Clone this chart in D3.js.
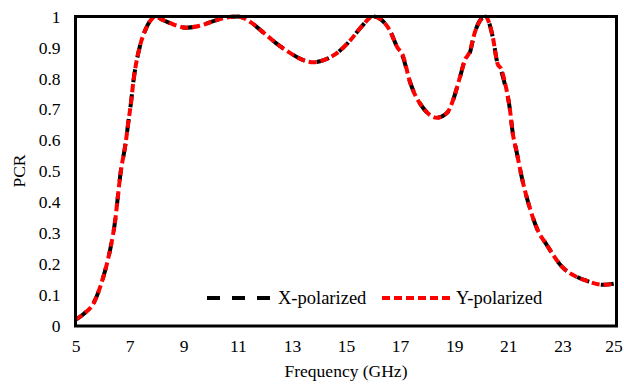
<!DOCTYPE html>
<html>
<head>
<meta charset="utf-8">
<script src="https://cdn.jsdelivr.net/npm/d3@7/dist/d3.min.js"></script>
<style>
  html, body { margin: 0; padding: 0; background: #fff; }
  svg { display: block; }
  svg text { font-family: "Times New Roman", "Liberation Serif", Tinos, serif; fill: #000; }
</style>
</head>
<body>
<svg id="chart" width="624" height="385"></svg>
<script>
// Frequency samples (GHz)
const freq = [5, 5.3, 5.67, 6.04, 6.2, 6.3, 6.48, 6.55, 6.66, 6.85, 6.96, 7.05, 7.14, 7.37, 7.6, 7.8, 7.95,
  8.2, 8.6, 9.1, 9.6, 10.1, 10.6, 11.0, 11.5, 11.95, 12.4, 12.9, 13.4, 13.8, 14.2, 14.7,
  15.15, 15.6, 16.0, 16.3, 16.62, 16.9, 17.1, 17.36, 17.84, 18.36, 18.75, 18.95, 19.2,
  19.4, 19.57, 19.75, 20.06, 20.15, 20.43, 20.6, 20.75, 20.86, 21.05, 21.17, 21.3, 21.5, 21.8,
  22.1, 22.4, 23.0, 23.5, 23.9, 24.5, 25];

// Polarization conversion ratio, X-polarized incidence
const xPol = [0.02, 0.039, 0.074, 0.162, 0.215, 0.255, 0.35, 0.405, 0.49, 0.589, 0.663, 0.72, 0.79, 0.9, 0.96, 0.99, 1.0,
  0.99, 0.975, 0.964, 0.97, 0.985, 0.997, 1.0, 0.98, 0.948, 0.915, 0.884, 0.86, 0.852, 0.86, 0.884,
  0.922, 0.97, 1.0, 0.99, 0.955, 0.9, 0.87, 0.79, 0.706, 0.673, 0.69, 0.728, 0.8,
  0.86, 0.88, 0.945, 0.997, 1.0, 0.932, 0.848, 0.82, 0.785, 0.706, 0.62, 0.566, 0.48, 0.38,
  0.307, 0.265, 0.19, 0.16, 0.146, 0.133, 0.138];

// Polarization conversion ratio, Y-polarized incidence
const yPol = [0.02, 0.039, 0.074, 0.162, 0.215, 0.255, 0.35, 0.405, 0.49, 0.589, 0.663, 0.72, 0.79, 0.9, 0.96, 0.99, 1.0,
  0.99, 0.975, 0.964, 0.97, 0.985, 0.997, 1.0, 0.98, 0.948, 0.915, 0.884, 0.86, 0.852, 0.86, 0.884,
  0.922, 0.97, 1.0, 0.99, 0.955, 0.9, 0.875, 0.79, 0.706, 0.673, 0.69, 0.728, 0.8,
  0.86, 0.885, 0.945, 0.997, 1.0, 0.932, 0.848, 0.828, 0.792, 0.706, 0.62, 0.566, 0.48, 0.38,
  0.307, 0.265, 0.19, 0.16, 0.146, 0.133, 0.138];

const xTicks = [5, 7, 9, 11, 13, 15, 17, 19, 21, 23, 25];
const yTicks = [0, 0.1, 0.2, 0.3, 0.4, 0.5, 0.6, 0.7, 0.8, 0.9, 1];

const seriesNames = ["X-polarized", "Y-polarized"];

const svg = d3.select("#chart");
const plotL = 75.5, plotR = 616.5, plotT = 16.5, plotB = 326;

const x = d3.scaleLinear().domain([5, 25]).range([plotL, plotR]);
const y = d3.scaleLinear().domain([0, 1]).range([plotB, plotT]);

const line = d3.line()
  .x((d, i) => x(freq[i]))
  .y(d => y(d))
  .curve(d3.curveMonotoneX);

svg.append("path")
  .datum(xPol)
  .attr("d", line)
  .attr("fill", "none")
  .attr("stroke", "#000")
  .attr("stroke-width", 4)
  .attr("stroke-dasharray", "13,12");

svg.append("path")
  .datum(yPol)
  .attr("d", line)
  .attr("fill", "none")
  .attr("stroke", "#ff0000")
  .attr("stroke-width", 4)
  .attr("stroke-dasharray", "8,4");

// Plot frame
svg.append("rect")
  .attr("x", plotL).attr("y", plotT)
  .attr("width", plotR - plotL).attr("height", plotB - plotT)
  .attr("fill", "none")
  .attr("stroke", "#000")
  .attr("stroke-width", 3);

// Axis tick labels via d3 axes (lines hidden, text kept)
const xAxis = svg.append("g")
  .attr("transform", `translate(0,${plotB})`)
  .call(d3.axisBottom(x).tickValues(xTicks).tickSize(0).tickPadding(14).tickFormat(d3.format("d")));
xAxis.select(".domain").remove();
xAxis.attr("font-family", null).selectAll("text").attr("font-size", 17.5);
xAxis.selectAll(".tick").filter(d => d === 25).select("text").attr("dx", -3);

const yAxis = svg.append("g")
  .attr("transform", `translate(${plotL},0)`)
  .call(d3.axisLeft(y).tickValues(yTicks).tickSize(0).tickPadding(15).tickFormat(d => String(+d.toFixed(1))));
yAxis.select(".domain").remove();
yAxis.attr("font-family", null).selectAll("text").attr("font-size", 17.5);

// Axis titles
svg.append("text")
  .attr("x", (plotL + plotR) / 2).attr("y", 377)
  .attr("text-anchor", "middle")
  .attr("font-size", 17.5)
  .text("Frequency (GHz)");

svg.append("text")
  .attr("transform", "translate(25,171) rotate(-90)")
  .attr("text-anchor", "middle")
  .attr("font-size", 17.5)
  .text("PCR");

// Legend
const legend = [
  { name: seriesNames[0], x0: 207, x1: 272, tx: 278, color: "#000", dash: "13,12" },
  { name: seriesNames[1], x0: 382, x1: 451, tx: 456, color: "#ff0000", dash: "8,4" }
];
const ly = 298;
legend.forEach(l => {
  svg.append("line")
    .attr("x1", l.x0).attr("x2", l.x1).attr("y1", ly).attr("y2", ly)
    .attr("stroke", l.color).attr("stroke-width", 4)
    .attr("stroke-dasharray", l.dash);
  svg.append("text")
    .attr("x", l.tx).attr("y", ly).attr("dy", "0.35em")
    .attr("font-size", 18.5)
    .text(l.name);
});
</script>
</body>
</html>
